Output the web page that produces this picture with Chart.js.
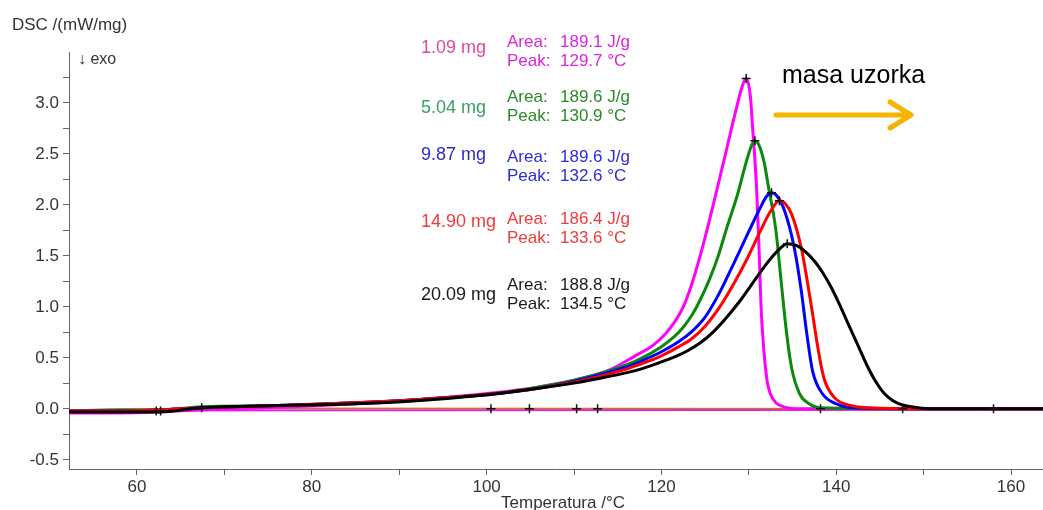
<!DOCTYPE html>
<html>
<head>
<meta charset="utf-8">
<script src="https://cdn.jsdelivr.net/npm/chart.js@4.4.1/dist/chart.umd.min.js"></script>
<style>
  html, body { margin: 0; padding: 0; background: #fff; }
  #wrap { position: relative; width: 1043px; height: 510px; }
</style>
</head>
<body>
<div id="wrap"><canvas id="c"></canvas></div>
<script>
// DSC curves (temperature in °C, DSC in mW/mg)
const blackT = [52.2, 58, 62.5, 67.3, 75, 85, 92, 99.2, 104, 109.1, 113, 116.3, 118, 120, 121.5, 123, 124.5, 126, 127.5, 129, 130.5, 132, 133.3, 134.4, 135.5, 136.5, 137.5, 138.5, 139.5, 140.5, 141.5, 142.5, 143.5, 144.5, 145.5, 146.5, 147.5, 149, 151, 163.7];
const blackY = [-0.03, -0.03, -0.03, 0.01, 0.03, 0.05, 0.08, 0.13, 0.18, 0.24, 0.3, 0.36, 0.4, 0.46, 0.51, 0.57, 0.65, 0.76, 0.9, 1.06, 1.24, 1.42, 1.55, 1.62, 1.6, 1.54, 1.45, 1.33, 1.18, 1.0, 0.81, 0.62, 0.43, 0.27, 0.15, 0.08, 0.04, 0.015, 0.0, 0.0];

const redT = [52.2, 58, 62.5, 67.5, 75, 85, 92, 100, 105, 110, 116, 118, 120, 122, 123.5, 125, 126.6, 128.1, 129.8, 131.3, 132.5, 133.5, 134.2, 134.9, 136.0, 136.7, 137.3, 137.9, 138.6, 139.8, 141.8, 143.8, 150, 163.7];
const redY = [-0.02, -0.02, -0.01, 0.01, 0.03, 0.06, 0.09, 0.14, 0.19, 0.26, 0.39, 0.45, 0.52, 0.61, 0.69, 0.81, 0.99, 1.2, 1.47, 1.74, 1.94, 2.04, 2.01, 1.91, 1.58, 1.25, 0.93, 0.6, 0.3, 0.11, 0.03, 0.01, 0.0, 0.0];

const blueT = [52.2, 58, 62.5, 67.5, 75, 85, 92, 100, 105, 110, 116, 118, 120, 122, 123.5, 125, 126.6, 128.3, 130, 131.3, 132, 132.6, 133.2, 134.1, 135.2, 136, 136.6, 137.3, 138.4, 140, 141.8, 150, 163.7];
const blueY = [-0.02, -0.02, -0.01, 0.01, 0.03, 0.06, 0.09, 0.14, 0.19, 0.27, 0.41, 0.48, 0.56, 0.66, 0.76, 0.9, 1.13, 1.43, 1.74, 1.97, 2.08, 2.12, 2.09, 1.94, 1.58, 1.16, 0.76, 0.37, 0.15, 0.05, 0.01, 0.0, 0.0];

const greenT = [52.2, 58, 62.5, 67.5, 75, 85, 92, 100, 105, 110, 116, 118, 120, 121.5, 122.5, 123.5, 124.5, 125.5, 126.5, 127.5, 128.7, 129.7, 130.3, 130.7, 131.2, 131.8, 132.2, 133.1, 133.7, 134.3, 134.9, 135.8, 136.9, 138.1, 150, 163.7];
const greenY = [-0.02, -0.01, -0.01, 0.02, 0.03, 0.06, 0.09, 0.14, 0.2, 0.28, 0.43, 0.51, 0.61, 0.71, 0.8, 0.92, 1.08, 1.27, 1.5, 1.78, 2.1, 2.42, 2.58, 2.63, 2.58, 2.4, 2.2, 1.75, 1.25, 0.76, 0.4, 0.15, 0.05, 0.01, 0.0, 0.0];

const magentaT = [52.2, 58, 62.5, 67.5, 75, 85, 92, 100, 105.7, 110, 114, 117, 119, 120.5, 121.5, 122.5, 123.5, 124.5, 125.5, 127, 128.5, 129.2, 129.7, 130.2, 130.4, 130.9, 131.2, 131.4, 131.7, 132.1, 132.5, 133.1, 134, 136, 150, 163.7];
const magentaY = [-0.04, -0.04, -0.03, -0.01, 0.01, 0.05, 0.09, 0.15, 0.21, 0.28, 0.38, 0.52, 0.62, 0.74, 0.85, 1.0, 1.23, 1.52, 1.85, 2.38, 2.92, 3.15, 3.24, 3.05, 2.8, 2.15, 1.5, 1.0, 0.6, 0.27, 0.14, 0.06, 0.02, 0.0, 0.0, 0.0];

// integration baselines
const orangeBaseT = [67.5, 163.7];
const orangeBaseY = [0.005, 0.0];
const magentaBaseT = [52.2, 163.7];
const magentaBaseY = [-0.015, -0.01];

// "+" markers (peaks and integration limits)
const markT = [129.7, 130.7, 132.6, 133.5, 134.4, 62.2, 62.7, 67.4, 100.5, 104.9, 110.3, 112.7, 138.2, 147.6, 158.0];
const markY = [3.24, 2.63, 2.12, 2.04, 1.62, -0.02, -0.02, 0.01, 0.0, 0.0, 0.0, 0.0, 0.0, 0.0, 0.0];

// sample annotations
const masses = ['1.09 mg', '5.04 mg', '9.87 mg', '14.90 mg', '20.09 mg'];
const areas = ['189.1 J/g', '189.6 J/g', '189.6 J/g', '186.4 J/g', '188.8 J/g'];
const peaks = ['129.7 °C', '130.9 °C', '132.6 °C', '133.6 °C', '134.5 °C'];

const xTicks = [60, 70, 80, 90, 100, 110, 120, 130, 140, 150, 160];
const yTicks = [-0.5, -0.25, 0, 0.25, 0.5, 0.75, 1, 1.25, 1.5, 1.75, 2, 2.25, 2.5, 2.75, 3, 3.25];

const FONT = '"Liberation Sans", Arial, sans-serif';

const pts = (t, y) => t.map((v, i) => ({ x: v, y: y[i] }));

const curve = (data, color) => ({
  data,
  borderColor: color,
  borderWidth: 3,
  pointRadius: 0,
  fill: false,
  cubicInterpolationMode: 'monotone'
});

// text, labels and the arrow drawn on top of the chart
const notes = {
  id: 'notes',
  afterDraw(chart) {
    const ctx = chart.ctx;
    ctx.save();
    ctx.textBaseline = 'middle';
    ctx.textAlign = 'left';

    ctx.fillStyle = '#333';
    ctx.font = '17px ' + FONT;
    ctx.fillText('DSC /(mW/mg)', 12, 25);
    ctx.font = '16px ' + FONT;
    ctx.fillText('\u2193 exo', 78, 60);

    ctx.textAlign = 'center';
    ctx.font = '17px ' + FONT;
    ctx.fillText('Temperatura /°C', 563, 503);

    // sample labels
    const massCol = ['#e0479b', '#36a15e', '#2b2bc8', '#f03a3a', '#1a1a1a'];
    const infoCol = ['#dc24dc', '#2a8a2a', '#2b2bd8', '#f03a3a', '#1a1a1a'];
    const massY = [48, 108, 155, 222, 295];
    const areaY = [42, 97, 157, 219, 285];
    ctx.textAlign = 'left';
    masses.forEach((m, i) => {
      ctx.font = '18px ' + FONT;
      ctx.fillStyle = massCol[i];
      ctx.fillText(m, 421, massY[i]);
      ctx.font = '17px ' + FONT;
      ctx.fillStyle = infoCol[i];
      ctx.fillText('Area:', 507, areaY[i]);
      ctx.fillText(areas[i], 560, areaY[i]);
      ctx.fillText('Peak:', 507, areaY[i] + 19);
      ctx.fillText(peaks[i], 560, areaY[i] + 19);
    });

    // masa uzorka + arrow
    ctx.fillStyle = '#000';
    ctx.font = '25px ' + FONT;
    ctx.fillText('masa uzorka', 782, 76);
    ctx.strokeStyle = '#f6b400';
    ctx.lineWidth = 5;
    ctx.lineCap = 'round';
    ctx.lineJoin = 'round';
    ctx.beginPath();
    ctx.moveTo(776, 115);
    ctx.lineTo(910, 115);
    ctx.moveTo(890, 102);
    ctx.lineTo(911, 115);
    ctx.lineTo(890, 128);
    ctx.stroke();
    ctx.restore();
  }
};

new Chart(document.getElementById('c'), {
  type: 'line',
  data: {
    datasets: [
      {
        data: pts(markT, markY),
        showLine: false,
        pointStyle: 'cross',
        pointRadius: 4.5,
        pointBorderWidth: 1.5,
        pointBorderColor: '#111',
        borderColor: '#111'
      },
      curve(pts(blackT, blackY), '#000000'),
      curve(pts(redT, redY), '#ff0000'),
      curve(pts(blueT, blueY), '#0000ff'),
      curve(pts(greenT, greenY), '#0a8a0a'),
      curve(pts(magentaT, magentaY), '#ff00ff'),
      { data: pts(orangeBaseT, orangeBaseY), borderColor: '#c8742c', borderWidth: 1.5, pointRadius: 0 },
      { data: pts(magentaBaseT, magentaBaseY), borderColor: '#e020e0', borderWidth: 2, pointRadius: 0 }
    ]
  },
  options: {
    responsive: true,
    maintainAspectRatio: false,
    animation: false,
    layout: { autoPadding: false, padding: { top: 52, right: 0, bottom: 0, left: 0 } },
    plugins: { legend: { display: false }, tooltip: { enabled: false } },
    scales: {
      x: {
        type: 'linear',
        min: 52.22,
        max: 163.66,
        afterBuildTicks: s => { s.ticks = xTicks.map(v => ({ value: v })); },
        afterFit: s => { s.height = 41; s.paddingLeft = 0; s.paddingRight = 0; },
        grid: { drawOnChartArea: false, tickLength: 6, color: '#666' },
        border: { color: '#666' },
        ticks: {
          autoSkip: false,
          maxRotation: 0,
          padding: 2,
          color: '#333',
          font: { family: FONT, size: 17 },
          callback: v => (v % 20 === 0 ? String(v) : '')
        }
      },
      y: {
        type: 'linear',
        min: -0.59,
        max: 3.5,
        afterBuildTicks: s => { s.ticks = yTicks.map(v => ({ value: v })); },
        afterFit: s => { s.width = 69; s.paddingTop = 0; s.paddingBottom = 0; },
        grid: { drawOnChartArea: false, tickLength: 6, color: '#666' },
        border: { color: '#666' },
        ticks: {
          autoSkip: false,
          padding: 4,
          color: '#333',
          font: { family: FONT, size: 17 },
          callback: v => (Math.abs(v * 2 - Math.round(v * 2)) < 1e-6 ? v.toFixed(1) : '')
        }
      }
    }
  },
  plugins: [notes]
});
</script>
</body>
</html>
